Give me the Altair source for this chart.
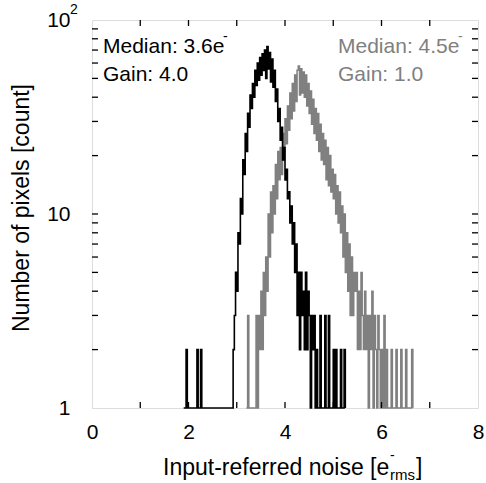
import altair as alt
import pandas as pd

BIN = 0.025

# Gain 4.0 histogram (black), bins start at 1.900 e-
black_start = 1.900
black_counts = [
    1, 1, 2, 1, 1, 1, 1, 1, 1, 1, 1, 2, 1, 1, 2, 1,          # 1.900 - 2.275
    1, 1, 1, 1, 1, 1, 1, 1, 1, 1, 1, 1, 1, 1, 1, 1, 1, 1, 1, 1, 1, 1, 1, 1, 1,  # 2.300 - 2.900
    2, 3, 5, 4, 8, 7, 12, 10, 19, 16, 26, 21, 33, 28, 41, 35,  # 2.925 - 3.300
    47, 40, 55, 46, 60, 49, 64, 52, 67, 55, 70, 50, 73, 56, 68, 48,  # 3.325 - 3.700
    63, 45, 55, 38, 44, 30, 35, 24, 28, 19, 22, 15, 17, 12, 13, 9,  # 3.725 - 4.100
    11, 7, 9, 5, 7, 3, 5, 2, 5, 3, 4, 2, 5, 2, 4, 3,           # 4.125 - 4.500
    1, 3, 2, 3, 1, 2, 1, 1, 3, 1, 1, 1, 3, 1, 1, 3,            # 4.525 - 4.900
    1, 1, 1, 2, 1, 2, 1, 1, 1, 2, 1, 1, 2, 1,                  # 4.925 - 5.250
]

# Gain 1.0 histogram (gray), bins start at 3.200 e-
gray_start = 3.200
gray_counts = [
    1, 3, 1, 1, 1, 1, 1, 1, 3, 1, 3, 2, 4, 2, 5, 3,            # 3.200 - 3.575
    6, 4, 10, 6, 13, 8, 14, 10, 18, 12, 21, 15, 22, 16, 26, 19,  # 3.600 - 3.975
    31, 23, 36, 27, 42, 31, 47, 34, 52, 38, 55, 58, 41, 56, 42, 54,  # 4.000 - 4.375
    40, 52, 36, 47, 33, 43, 29, 39, 26, 35, 24, 33, 21, 29, 19, 26,  # 4.400 - 4.775
    18, 24, 15, 22, 14, 20, 13, 17, 12, 16, 10, 14, 9, 13, 8, 11,  # 4.800 - 5.175
    6, 10, 5, 8, 4, 7, 3, 6, 3, 5, 4, 5, 2, 4, 2, 5,           # 5.200 - 5.575
    3, 2, 4, 2, 3, 1, 3, 2, 4, 1, 3, 2, 1, 3, 2, 1,            # 5.600 - 5.975
    2, 1, 3, 1, 2, 1, 1, 1, 2, 1, 1, 1, 2, 1, 1, 1,            # 6.000 - 6.375
    2, 1, 1, 1, 2, 1, 1, 1, 1, 2, 1,                           # 6.400 - 6.650
]

x_tick_values = [1, 2, 3, 4, 5, 6, 7]
y_tick_values = [2, 3, 4, 5, 6, 7, 8, 9, 10, 20, 30, 40, 50, 60, 70, 80, 90]
x_label_values = [0, 2, 4, 6, 8]
y_label_values = [1, 10, 100]

W, H = 386, 388
FONT = "Liberation Sans"
GRAY = "#808080"


def hist_frame(start, counts):
    xs = [round(start + i * BIN, 4) for i in range(len(counts))]
    return pd.DataFrame({"noise": xs, "count": counts})


black_df = hist_frame(black_start, black_counts)
gray_df = hist_frame(gray_start, gray_counts)

xscale = alt.Scale(domain=[0, 8], nice=False, zero=False)
yscale = alt.Scale(type="log", domain=[1, 100], nice=False)

x_axis = alt.Axis(values=x_label_values, ticks=False, domain=False, grid=False,
                  labelFontSize=21, labelFont=FONT, labelColor="black",
                  labelPadding=13, labelFlush=False, labelOverlap=False, title=None)
y_axis = alt.Axis(values=y_label_values, ticks=False, domain=False, grid=False,
                  labelFontSize=21, labelFont=FONT, labelColor="black",
                  labelPadding=22, labelFlush=False, labelOverlap=False, title=None,
                  labelExpr="datum.value >= 10 ? '10' : '1'")

gray_line = alt.Chart(gray_df).mark_line(
    interpolate="step-after", color=GRAY, strokeWidth=1.5
).encode(
    x=alt.X("noise:Q", scale=xscale, axis=x_axis),
    y=alt.Y("count:Q", scale=yscale, axis=y_axis),
)

black_line = alt.Chart(black_df).mark_line(
    interpolate="step-after", color="black", strokeWidth=1.6
).encode(
    x=alt.X("noise:Q", scale=xscale, axis=x_axis),
    y=alt.Y("count:Q", scale=yscale, axis=y_axis),
)

xt = pd.DataFrame({"noise": x_tick_values})
yt = pd.DataFrame({"count": y_tick_values})
TL = 6
tick_style = dict(color="black", strokeWidth=1.3)

bottom_ticks = alt.Chart(xt).mark_rule(**tick_style).encode(
    x=alt.X("noise:Q", scale=xscale, axis=x_axis), y=alt.value(H), y2=alt.value(H - TL))
top_ticks = alt.Chart(xt).mark_rule(**tick_style).encode(
    x=alt.X("noise:Q", scale=xscale, axis=x_axis), y=alt.value(0), y2=alt.value(TL))
left_ticks = alt.Chart(yt).mark_rule(**tick_style).encode(
    y=alt.Y("count:Q", scale=yscale, axis=y_axis), x=alt.value(0), x2=alt.value(TL))
right_ticks = alt.Chart(yt).mark_rule(**tick_style).encode(
    y=alt.Y("count:Q", scale=yscale, axis=y_axis), x=alt.value(W), x2=alt.value(W - TL))


def label(text, x, y, size=21, color="black", align="left", baseline="alphabetic", angle=0):
    kw = dict(text=text, fontSize=size, font=FONT, color=color, align=align, baseline=baseline)
    if angle:
        kw["angle"] = angle
    return alt.Chart(pd.DataFrame({"a": [0]})).mark_text(**kw).encode(
        x=alt.value(x), y=alt.value(y))


texts = [
    label("Median: 3.6e", 11, 33),
    label("-", 131, 21, size=14),
    label("Gain: 4.0", 11, 61),
    label("Median: 4.5e", 246, 33, color=GRAY),
    label("-", 366, 21, size=14, color=GRAY),
    label("Gain: 1.0", 246, 61, color=GRAY),
    label("2", -22, -6, size=14),
    label("Number of pixels [count]", -70, 188, size=23, align="center",
          baseline="middle", angle=270),
    label("Input-referred noise [e", 71, 455, size=23),
    label("-", 298, 440, size=14),
    label("rms", 298, 460, size=15),
    label("]", 324, 455, size=23),
]

chart = alt.layer(
    gray_line, black_line, bottom_ticks, top_ticks, left_ticks, right_ticks, *texts
).properties(
    width=W, height=H,
    autosize=alt.AutoSizeParams(type="none"),
    padding={"left": 92, "top": 20, "right": 8, "bottom": 75},
).configure_view(
    stroke="black", strokeWidth=1.5
).configure(background="white")

chart.save("out.html", embed_options={"renderer": "svg", "actions": False})
